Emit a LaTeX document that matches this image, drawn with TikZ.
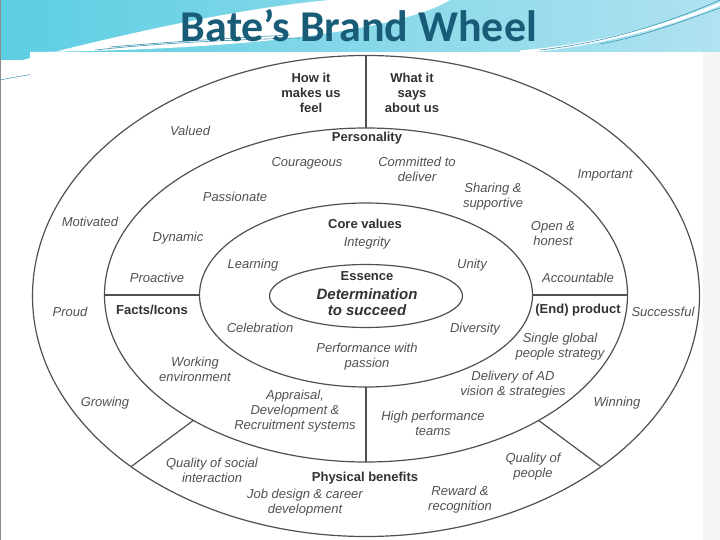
\documentclass[tikz,border=0pt]{standalone}
\usepackage{fontspec}
\setmainfont{Liberation Sans}
\newfontfamily\titlefont{Carlito}
\usetikzlibrary{shapes.geometric}

\definecolor{titleteal}{RGB}{24,92,120}
\definecolor{skycyan}{RGB}{92,206,226}
\definecolor{palecyan}{RGB}{176,226,240}
\definecolor{streak}{RGB}{60,150,180}
\definecolor{wheelline}{RGB}{80,80,80}
\definecolor{wheeltext}{RGB}{50,50,50}

\tikzset{
  ring/.style={draw=wheelline, line width=1.2pt, ellipse, inner sep=0pt, outer sep=0pt},
  spoke/.style={draw=wheelline, line width=1.2pt},
  item/.style={font=\fontsize{13}{15}\selectfont\itshape, text=wheeltext!85, align=center, inner sep=1pt},
  head/.style={font=\fontsize{13}{15}\selectfont\bfseries, text=wheeltext, align=center, inner sep=1pt},
}

\begin{document}
\begin{tikzpicture}[x=1pt, y=-1pt]
  \useasboundingbox (0,0) rectangle (720,540);

  % Slide background and swoosh
  \shade[left color=skycyan, right color=palecyan] (0,0) rectangle (720,60);
  \fill[white] (0,66) .. controls (120,34) and (240,8) .. (330,0) -- (450,0)
    .. controls (400,30) and (250,50) .. (30,52) -- (30,540) -- (0,540) -- cycle;
  \draw[streak, line width=0.6pt] (95,50) .. controls (150,44) and (220,40) .. (300,38);
  \draw[streak, line width=0.6pt] (110,47) .. controls (170,42) and (230,38) .. (290,35);
  \draw[streak, line width=0.5pt] (0,80) .. controls (30,74) and (60,70) .. (90,68);
  \draw[white, line width=3pt] (520,52) .. controls (600,45) and (670,25) .. (720,4);
  \draw[streak, line width=0.6pt] (540,50) .. controls (610,42) and (670,22) .. (720,0);
  \draw[streak, line width=0.6pt] (600,44) .. controls (650,35) and (690,18) .. (720,8);
  \fill[white] (30,52) rectangle (703,540);
  \fill[black!4] (703,52) rectangle (720,540);
  \draw[black!45, line width=1pt] (0.5,0) -- (0.5,540);

  % Title
  \node[font=\titlefont\bfseries\fontsize{44}{44}\selectfont, text=titleteal, anchor=base]
    (title) at (359,42) {Bate’s Brand Wheel};

  % Wheel rings
  \node[ring, minimum width=667pt, minimum height=481pt] (outer) at (366,296) {};
  \node[ring, minimum width=523pt, minimum height=334pt] (mid) at (366,295) {};
  \node[ring, minimum width=333pt, minimum height=184pt] (core) at (366,295) {};
  \node[ring, minimum width=193pt, minimum height=63pt] (essence) at (366,296) {};

  % Spokes
  \draw[spoke] (outer.north) -- (mid.north);
  \draw[spoke] (core.south) -- (mid.south);
  \draw[spoke] (mid.west) -- (core.west);
  \draw[spoke] (core.east) -- (mid.east);
  \draw[spoke] (mid.216) -- (outer.216);
  \draw[spoke] (mid.324) -- (outer.324);

  % Headings
  \foreach \nm/\pos/\txt in {
      howfeel/{311,93}/{How it\\makes us\\feel},
      whatsays/{412,93}/{What it\\says\\about us},
      personality/{367,138}/{Personality},
      corevalues/{365,224}/{Core values},
      essencelbl/{367,276}/{Essence},
      facts/{152,310}/{Facts/Icons},
      product/{578,310}/{(End) product},
      physical/{365,478}/{Physical benefits}} {
    \node[head] (\nm) at (\pos) {\txt};
  }
  \node[head, font=\fontsize{15}{16}\selectfont\bfseries\itshape]
    (determination) at (367,302) {Determination\\to succeed};

  % Values in the rings
  \foreach \nm/\pos/\txt in {
      valued/{190,131}/{Valued},
      courageous/{307,163}/{Courageous},
      committed/{417,169}/{Committed to\\deliver},
      important/{605,175}/{Important},
      passionate/{235,197}/{Passionate},
      sharing/{493,197}/{Sharing \&\\supportive},
      motivated/{90,222}/{Motivated},
      dynamic/{178,238}/{Dynamic},
      integrity/{367,243}/{Integrity},
      openhonest/{553,234}/{Open \&\\honest},
      learning/{253,265}/{Learning},
      unity/{472,265}/{Unity},
      proactive/{157,278}/{Proactive},
      accountable/{578,278}/{Accountable},
      proud/{70,312}/{Proud},
      successful/{663,312}/{Successful},
      celebration/{260,328}/{Celebration},
      diversity/{475,329}/{Diversity},
      performance/{367,357}/{Performance with\\passion},
      singleglobal/{560,347}/{Single global\\people strategy},
      working/{195,369}/{Working\\environment},
      delivery/{513,385}/{Delivery of AD\\vision \& strategies},
      growing/{105,403}/{Growing},
      winning/{617,403}/{Winning},
      appraisal/{295,411}/{Appraisal,\\Development \&\\Recruitment systems},
      highperf/{433,423}/{High performance\\teams},
      socialq/{212,470}/{Quality of social\\interaction},
      peopleq/{533,467}/{Quality of\\people},
      jobdesign/{305,503}/{Job design \& career\\development},
      reward/{460,500}/{Reward \&\\recognition}} {
    \node[item] (\nm) at (\pos) {\txt};
  }
\end{tikzpicture}
\end{document}
